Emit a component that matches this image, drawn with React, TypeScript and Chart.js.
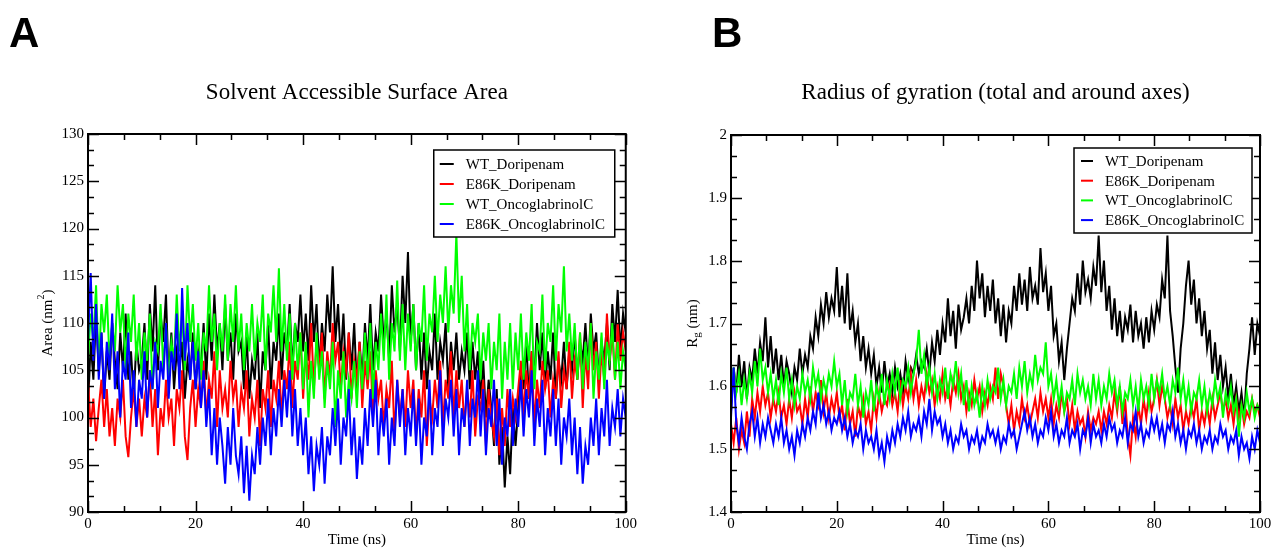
import React, { useEffect, useRef } from 'react';
import { Chart, registerables } from 'chart.js';

Chart.register(...registerables);

// ---------- data ----------
const TIME_STEP_NS = 0.5; // sampling interval of every series below (0 .. 100 ns)

const SERIES_LABELS = ['WT_Doripenam', 'E86K_Doripenam', 'WT_OncoglabrinolC', 'E86K_OncoglabrinolC'];
const SERIES_COLORS = ['#000000', '#ff0000', '#00ff00', '#0000ff'];

const X_TICK_STEP = 20;
const X_MIN = 0;
const X_MAX = 100;
const SASA_Y_MIN = 90;
const SASA_Y_MAX = 130;
const SASA_Y_STEP = 5;
const RG_Y_MIN = 1.4;
const RG_Y_MAX = 2;
const RG_Y_STEP = 0.1;

// Solvent Accessible Surface Area (nm^2)
const sasaWTDoripenam = [
  101, 108, 104, 111, 105, 109, 102, 107, 104, 110, 106, 103, 109, 105, 111, 104, 107, 102, 108, 105,
  106, 110, 104, 112, 107, 114, 105, 111, 108, 113, 104, 109, 103, 107, 105, 108, 102, 106, 104, 109,
  103, 107, 105, 110, 104, 111, 106, 113, 107, 110, 105, 112, 106, 109, 104, 111, 107, 108, 103, 109,
  102, 106, 104, 109, 101, 107, 105, 110, 103, 108, 106, 111, 104, 109, 107, 112, 105, 110, 108, 113,
  107, 111, 106, 114, 108, 112, 105, 110, 107, 113, 109, 116, 108, 112, 106, 111, 104, 109, 105, 110,
  103, 108, 104, 110, 106, 112, 105, 109, 107, 113, 108, 111, 106, 114, 109, 112, 107, 115, 110, 117.5,
  108, 112, 105, 110, 104, 109, 103, 107, 105, 111, 104, 108, 106, 110, 103, 108, 105, 109, 104, 107,
  105, 109, 103, 108, 104, 107, 102, 106, 100, 104, 101, 97, 103, 95, 99, 92.6, 98, 94, 101, 97,
  101, 105, 103, 108, 102, 107, 104, 110, 105, 109, 103, 107, 104, 109, 102, 106, 104, 108, 103, 107,
  105, 109, 104, 108, 106, 110, 105, 111, 107, 109, 104, 108, 106, 110, 105, 112, 108, 113.5, 107, 111,
  109,
];
const sasaE86KDoripenam = [
  104, 99, 102, 97.5, 101, 104, 99, 103, 98, 101, 97, 102, 100, 104, 98, 95.8, 100, 103, 99, 102,
  98, 102, 100, 105, 99, 103, 96, 101, 99, 104, 100, 102, 97, 103, 101, 105, 98, 95.5, 101, 104,
  99, 103, 101, 106, 100, 104, 102, 107, 99, 105, 101, 103, 100, 106, 102, 104, 99, 103, 101, 105,
  98, 102, 100, 104, 97, 103, 101, 105, 99, 104, 102, 106, 100, 105, 103, 108, 101, 106, 104, 109,
  102, 107, 104, 110, 103, 108, 105, 109, 102, 107, 104, 110, 106, 108, 103, 107, 105, 109, 102, 106,
  104, 108, 101, 106, 103, 107, 100, 105, 102, 104, 99, 103, 101, 106, 98, 104, 100, 103, 99, 105,
  101, 104, 98, 103, 100, 105, 97, 102, 100, 104, 101, 106, 99, 104, 102, 107, 100, 105, 101, 104,
  99, 103, 100, 105, 98, 102, 101, 104, 97, 103, 100, 98, 102, 96, 101, 97, 103, 99, 102, 100,
  103, 106, 100, 105, 102, 107, 99, 104, 101, 106, 103, 105, 100, 104, 102, 107, 101, 105, 103, 108,
  102, 106, 104, 109, 101, 107, 103, 110, 105, 108, 102, 107, 104, 111, 106, 109, 104, 110, 106, 109,
  107,
];
const sasaWTOncoglabrinolC = [
  106, 111, 108, 114, 105, 112, 109, 113, 106, 110, 107, 114, 109, 112, 105, 111, 108, 113, 106, 110,
  104, 109, 106, 111, 103, 108, 107, 112, 105, 110, 104, 108, 106, 113, 107, 111, 105, 114, 108, 112,
  106, 110, 104, 109, 107, 114, 108, 111, 105, 110, 107, 113, 106, 112, 108, 114, 107, 111, 105, 110,
  107, 112, 106, 110, 108, 113, 105, 111, 109, 114, 108, 115.8, 107, 112, 106, 111, 104, 110, 105, 109,
  103, 108, 100, 106, 102, 109, 104, 107, 101, 106, 103, 108, 99, 105, 102, 107, 100, 104, 102, 106,
  101, 107, 103, 109, 104, 110, 102, 108, 105, 111, 106, 113, 104, 110, 107, 114.5, 106, 112, 105, 111,
  107, 112, 105, 110, 108, 114, 106, 111, 109, 115, 108, 113, 110, 116, 109, 114, 111, 119.5, 110, 115,
  107, 112, 105, 110, 108, 111, 104, 109, 106, 110, 103, 108, 105, 111, 102, 108, 104, 110, 103, 109,
  105, 111, 104, 109, 106, 112, 103, 108, 107, 113, 105, 110, 108, 114, 106, 112, 109, 116, 107, 111,
  106, 110, 104, 109, 103, 108, 105, 110, 102, 107, 104, 109, 103, 108, 106, 110, 104, 108, 103, 107,
  105,
];
const sasaE86KOncoglabrinolC = [
  108, 115.3, 106, 112, 104, 109, 102, 108, 105, 111, 103, 107, 100, 106, 104, 109, 101, 105, 99, 104,
  102, 107, 100, 105, 103, 108, 101, 106, 104, 110, 102, 107, 105, 111, 103, 113.7, 106, 110, 104, 108,
  103, 107, 101, 105, 99, 103, 96, 101, 95, 100, 97, 93, 99, 95, 101, 96, 94, 98, 92, 97,
  91.2, 96, 94, 99, 95, 100, 97, 102, 96, 101, 98, 103, 99, 104, 100, 105, 98, 103, 97, 101,
  96, 100, 94, 98, 92.2, 97, 95, 99, 93, 98, 96, 101, 97, 102, 95, 100, 98, 103, 96, 100,
  93.5, 98, 95, 101, 97, 103, 99, 104, 96, 101, 98, 102, 95, 100, 97, 104, 99, 103, 96, 101,
  98, 103, 97, 102, 95, 100, 98, 104, 96, 101, 99, 105, 97, 102, 100, 104, 98, 103, 96, 101,
  99, 104, 97, 102, 100, 105, 98, 103, 96, 101, 99, 104, 97, 102, 95, 100, 98, 103, 97, 102,
  99, 104, 98, 103, 100, 105, 97, 102, 99, 104, 96, 101, 98, 103, 97, 102, 95, 100, 98, 102,
  96, 100, 94, 99, 93, 97, 95, 100, 97, 102, 96, 101, 98, 104, 97, 101, 99, 103, 98, 102,
  100,
];

// Radius of gyration (nm)
const rgWTDoripenam = [
  1.56, 1.63, 1.59, 1.65, 1.60, 1.64, 1.58, 1.63, 1.61, 1.66, 1.62, 1.67, 1.64, 1.71, 1.63, 1.68, 1.62, 1.66, 1.61, 1.65,
  1.60, 1.64, 1.62, 1.59, 1.63, 1.61, 1.66, 1.62, 1.65, 1.63, 1.68, 1.66, 1.71, 1.68, 1.73, 1.70, 1.75, 1.71, 1.74, 1.72,
  1.79, 1.71, 1.76, 1.70, 1.78, 1.69, 1.72, 1.67, 1.70, 1.64, 1.68, 1.63, 1.66, 1.62, 1.65, 1.60, 1.63, 1.59, 1.64, 1.60,
  1.62, 1.59, 1.63, 1.60, 1.62, 1.59, 1.64, 1.61, 1.63, 1.62, 1.65, 1.62, 1.64, 1.63, 1.66, 1.62, 1.67, 1.64, 1.69, 1.65,
  1.70, 1.67, 1.74, 1.68, 1.72, 1.66, 1.73, 1.69, 1.71, 1.74, 1.70, 1.76, 1.72, 1.80, 1.74, 1.78, 1.71, 1.76, 1.72, 1.77,
  1.70, 1.74, 1.68, 1.73, 1.67, 1.72, 1.70, 1.76, 1.72, 1.78, 1.73, 1.77, 1.72, 1.79, 1.74, 1.76, 1.73, 1.82, 1.75, 1.78,
  1.72, 1.76, 1.68, 1.70, 1.64, 1.67, 1.61, 1.66, 1.70, 1.74, 1.72, 1.78, 1.73, 1.80, 1.75, 1.77, 1.74, 1.79, 1.76, 1.84,
  1.75, 1.80, 1.72, 1.76, 1.69, 1.74, 1.68, 1.72, 1.67, 1.71, 1.69, 1.73, 1.67, 1.72, 1.68, 1.70, 1.66, 1.71, 1.67, 1.72,
  1.69, 1.73, 1.71, 1.77, 1.74, 1.84, 1.72, 1.68, 1.63, 1.59, 1.66, 1.70, 1.76, 1.80, 1.73, 1.77, 1.70, 1.74, 1.68, 1.72,
  1.66, 1.69, 1.62, 1.67, 1.61, 1.65, 1.60, 1.63, 1.58, 1.62, 1.57, 1.60, 1.56, 1.59, 1.55, 1.62, 1.66, 1.71, 1.65, 1.70,
  1.68,
];
const rgE86KDoripenam = [
  1.54, 1.51, 1.55, 1.50, 1.53, 1.51, 1.56, 1.52, 1.58, 1.55, 1.59, 1.56, 1.60, 1.57, 1.59, 1.55, 1.58, 1.56, 1.59, 1.55,
  1.57, 1.54, 1.58, 1.55, 1.59, 1.56, 1.57, 1.54, 1.58, 1.55, 1.60, 1.56, 1.59, 1.57, 1.61, 1.56, 1.59, 1.55, 1.58, 1.56,
  1.59, 1.55, 1.57, 1.53, 1.58, 1.54, 1.56, 1.52, 1.57, 1.55, 1.58, 1.54, 1.56, 1.53, 1.58, 1.55, 1.59, 1.56, 1.58, 1.57,
  1.60, 1.57, 1.59, 1.56, 1.61, 1.57, 1.60, 1.58, 1.62, 1.58, 1.61, 1.57, 1.60, 1.58, 1.62, 1.59, 1.61, 1.57, 1.60, 1.58,
  1.62, 1.58, 1.60, 1.57, 1.61, 1.59, 1.62, 1.58, 1.60, 1.56, 1.59, 1.57, 1.61, 1.58, 1.60, 1.56, 1.59, 1.57, 1.60, 1.58,
  1.63, 1.58, 1.62, 1.60, 1.57, 1.54, 1.57, 1.53, 1.56, 1.54, 1.58, 1.55, 1.57, 1.54, 1.56, 1.58, 1.55, 1.59, 1.56, 1.58,
  1.55, 1.58, 1.54, 1.57, 1.55, 1.59, 1.56, 1.58, 1.54, 1.57, 1.53, 1.56, 1.54, 1.55, 1.52, 1.56, 1.53, 1.55, 1.54, 1.56,
  1.53, 1.56, 1.54, 1.57, 1.55, 1.59, 1.56, 1.60, 1.54, 1.58, 1.52, 1.49, 1.55, 1.52, 1.57, 1.54, 1.58, 1.55, 1.59, 1.56,
  1.58, 1.61, 1.57, 1.60, 1.58, 1.55, 1.57, 1.54, 1.58, 1.55, 1.57, 1.53, 1.56, 1.54, 1.57, 1.55, 1.58, 1.53, 1.56, 1.54,
  1.57, 1.54, 1.58, 1.55, 1.57, 1.59, 1.56, 1.58, 1.55, 1.57, 1.54, 1.58, 1.55, 1.57, 1.54, 1.56, 1.55, 1.58, 1.56, 1.57,
  1.55,
];
const rgWTOncoglabrinolC = [
  1.58, 1.63, 1.59, 1.62, 1.57, 1.61, 1.58, 1.62, 1.59, 1.64, 1.60, 1.66, 1.61, 1.63, 1.59, 1.62, 1.58, 1.61, 1.57, 1.62,
  1.59, 1.63, 1.58, 1.61, 1.57, 1.60, 1.58, 1.62, 1.59, 1.61, 1.58, 1.63, 1.60, 1.62, 1.58, 1.61, 1.59, 1.62, 1.60, 1.64,
  1.60, 1.62, 1.57, 1.61, 1.56, 1.59, 1.58, 1.62, 1.57, 1.60, 1.55, 1.59, 1.57, 1.61, 1.56, 1.60, 1.58, 1.62, 1.57, 1.61,
  1.58, 1.62, 1.59, 1.63, 1.58, 1.61, 1.60, 1.63, 1.59, 1.62, 1.64, 1.69, 1.62, 1.65, 1.60, 1.63, 1.59, 1.62, 1.58, 1.61,
  1.59, 1.63, 1.58, 1.62, 1.60, 1.64, 1.59, 1.62, 1.57, 1.61, 1.56, 1.60, 1.57, 1.59, 1.55, 1.60, 1.57, 1.61, 1.58, 1.60,
  1.59, 1.63, 1.58, 1.61, 1.57, 1.60, 1.59, 1.62, 1.58, 1.63, 1.60, 1.64, 1.59, 1.62, 1.60, 1.65, 1.61, 1.63, 1.62, 1.67,
  1.60, 1.62, 1.58, 1.61, 1.57, 1.60, 1.56, 1.59, 1.58, 1.61, 1.57, 1.62, 1.59, 1.61, 1.58, 1.60, 1.57, 1.62, 1.58, 1.61,
  1.57, 1.60, 1.58, 1.62, 1.59, 1.61, 1.57, 1.60, 1.56, 1.59, 1.58, 1.61, 1.57, 1.60, 1.56, 1.61, 1.58, 1.60, 1.57, 1.62,
  1.58, 1.61, 1.59, 1.62, 1.58, 1.60, 1.57, 1.61, 1.59, 1.63, 1.58, 1.61, 1.57, 1.60, 1.56, 1.59, 1.58, 1.61, 1.57, 1.60,
  1.56, 1.59, 1.57, 1.61, 1.58, 1.60, 1.55, 1.59, 1.57, 1.60, 1.56, 1.58, 1.52, 1.57, 1.55, 1.59, 1.56, 1.58, 1.55, 1.57,
  1.56,
];
const rgE86KOncoglabrinolC = [
  1.55, 1.63, 1.54, 1.51, 1.55, 1.52, 1.50, 1.54, 1.56, 1.52, 1.55, 1.51, 1.54, 1.52, 1.55, 1.53, 1.51, 1.54, 1.52, 1.55,
  1.51, 1.53, 1.50, 1.52, 1.49, 1.53, 1.51, 1.54, 1.52, 1.55, 1.53, 1.56, 1.54, 1.59, 1.55, 1.57, 1.54, 1.56, 1.53, 1.55,
  1.54, 1.56, 1.53, 1.55, 1.52, 1.54, 1.51, 1.53, 1.52, 1.54, 1.50, 1.53, 1.51, 1.52, 1.50, 1.53, 1.49, 1.51, 1.48, 1.52,
  1.50, 1.53, 1.51, 1.54, 1.52, 1.55, 1.53, 1.56, 1.52, 1.54, 1.53, 1.55, 1.52, 1.56, 1.54, 1.58, 1.53, 1.56, 1.54, 1.55,
  1.52, 1.54, 1.51, 1.53, 1.50, 1.52, 1.51, 1.54, 1.52, 1.53, 1.50, 1.52, 1.51, 1.53, 1.50, 1.52, 1.51, 1.54, 1.52, 1.53,
  1.51, 1.53, 1.50, 1.52, 1.51, 1.54, 1.52, 1.53, 1.50, 1.52, 1.54, 1.56, 1.53, 1.55, 1.52, 1.54, 1.51, 1.53, 1.52, 1.55,
  1.53, 1.56, 1.52, 1.54, 1.51, 1.53, 1.52, 1.55, 1.51, 1.53, 1.52, 1.54, 1.50, 1.53, 1.52, 1.55, 1.51, 1.54, 1.52, 1.53,
  1.51, 1.54, 1.52, 1.55, 1.53, 1.54, 1.51, 1.53, 1.52, 1.55, 1.51, 1.54, 1.53, 1.56, 1.52, 1.54, 1.51, 1.53, 1.52, 1.55,
  1.53, 1.55, 1.52, 1.54, 1.51, 1.54, 1.53, 1.56, 1.52, 1.54, 1.51, 1.53, 1.50, 1.53, 1.52, 1.54, 1.51, 1.53, 1.50, 1.52,
  1.51, 1.53, 1.50, 1.52, 1.51, 1.54, 1.52, 1.53, 1.50, 1.52, 1.51, 1.53, 1.49, 1.52, 1.50, 1.51, 1.485, 1.52, 1.50, 1.53,
  1.51,
];

// ---------- styling ----------
const SERIF = '"Liberation Serif", "Times New Roman", Times, serif';
const SANS = '"Liberation Sans", Arial, Helvetica, sans-serif';
const CANVAS_H = 548;

const xmgracePlugin = {
  id: 'xmgrace',
  afterDatasetsDraw(chart: any, _args: any, opts: any) {
    const { ctx, chartArea } = chart;
    const { left, right, top, bottom } = chartArea;
    const xs = chart.scales.x;
    const ys = chart.scales.y;
    ctx.save();

    // tick marks (inward, all four sides)
    ctx.strokeStyle = '#000';
    ctx.lineWidth = 1.5;
    const drawTicks = (scale: any, horizontal: boolean) => {
      const vals: number[] = scale.ticks.map((t: any) => t.value);
      const step = vals[1] - vals[0];
      const minors: number[] = [];
      for (let i = 0; i < vals.length - 1; i++) {
        for (let k = 1; k <= 2; k++) minors.push(vals[i] + (step * k) / 3);
      }
      const one = (v: number, len: number) => {
        const p = Math.round(scale.getPixelForValue(v)) + 0.5;
        ctx.beginPath();
        if (horizontal) {
          ctx.moveTo(p, bottom);
          ctx.lineTo(p, bottom - len);
          ctx.moveTo(p, top);
          ctx.lineTo(p, top + len);
        } else {
          ctx.moveTo(left, p);
          ctx.lineTo(left + len, p);
          ctx.moveTo(right, p);
          ctx.lineTo(right - len, p);
        }
        ctx.stroke();
      };
      vals.forEach((v) => one(v, 11));
      minors.forEach((v) => one(v, 6));
    };
    drawTicks(xs, true);
    drawTicks(ys, false);

    // frame
    ctx.lineWidth = 2;
    ctx.strokeRect(left, top, right - left, bottom - top);

    // legend box
    const lg = opts.legend;
    const bx = right - lg.rightGap - lg.width;
    const by = top + lg.topGap;
    ctx.fillStyle = '#fff';
    ctx.fillRect(bx, by, lg.width, lg.height);
    ctx.lineWidth = 1.5;
    ctx.strokeStyle = '#000';
    ctx.strokeRect(bx, by, lg.width, lg.height);
    ctx.font = `15px ${SERIF}`;
    ctx.textBaseline = 'middle';
    ctx.textAlign = 'left';
    chart.data.datasets.forEach((ds: any, i: number) => {
      const ry = by + lg.firstRow + i * lg.rowGap;
      ctx.strokeStyle = ds.borderColor;
      ctx.lineWidth = 2;
      ctx.beginPath();
      ctx.moveTo(bx + lg.lineX0, ry);
      ctx.lineTo(bx + lg.lineX1, ry);
      ctx.stroke();
      ctx.fillStyle = '#000';
      ctx.fillText(ds.label, bx + lg.textX, ry + 1);
    });

    // chart title
    ctx.fillStyle = '#000';
    ctx.textAlign = 'center';
    ctx.textBaseline = 'middle';
    ctx.font = `23px ${SERIF}`;
    ctx.fillText(opts.title, (left + right) / 2, opts.titleY);

    // x-axis title
    ctx.font = `15px ${SERIF}`;
    ctx.fillText(opts.xTitle, (left + right) / 2, opts.xTitleY);

    // y-axis title (rotated, with super/subscript parts)
    ctx.save();
    ctx.translate(opts.yTitleX, (top + bottom) / 2);
    ctx.rotate(-Math.PI / 2);
    ctx.textAlign = 'left';
    ctx.textBaseline = 'middle';
    const parts: { t: string; size: number; dy: number }[] = opts.yTitleParts;
    let total = 0;
    parts.forEach((p) => {
      ctx.font = `${p.size}px ${SERIF}`;
      total += ctx.measureText(p.t).width;
    });
    let cx = -total / 2;
    parts.forEach((p) => {
      ctx.font = `${p.size}px ${SERIF}`;
      ctx.fillText(p.t, cx, p.dy);
      cx += ctx.measureText(p.t).width;
    });
    ctx.restore();

    // panel letter
    ctx.textAlign = 'left';
    ctx.textBaseline = 'alphabetic';
    ctx.font = `bold 42px ${SANS}`;
    ctx.fillText(opts.panel, opts.panelX, opts.panelY);

    ctx.restore();
  },
};

function makeDatasets(series: number[][]) {
  return series.map((values, i) => ({
    label: SERIES_LABELS[i],
    data: values.map((v, k) => ({ x: k * TIME_STEP_NS, y: v })),
    borderColor: SERIES_COLORS[i],
    backgroundColor: SERIES_COLORS[i],
    borderWidth: 2,
    pointRadius: 0,
    tension: 0,
    fill: false,
    order: 4 - i, // later series drawn on top, as in the original plot
  }));
}

const formatTick = (v: any) => String(Number(Number(v).toFixed(2)));

function makeConfig(p: {
  series: number[][];
  yMin: number;
  yMax: number;
  yStep: number;
  yAxisWidth: number;
  padTop: number;
  padRight: number;
  plugin: any;
}): any {
  return {
    type: 'line',
    data: { datasets: makeDatasets(p.series) },
    plugins: [xmgracePlugin],
    options: {
      animation: false,
      responsive: false,
      events: [],
      layout: { padding: { left: 0, top: p.padTop, right: p.padRight, bottom: 0 } },
      plugins: {
        legend: { display: false },
        title: { display: false },
        tooltip: { enabled: false },
        xmgrace: p.plugin,
      },
      scales: {
        x: {
          type: 'linear',
          min: X_MIN,
          max: X_MAX,
          grid: { display: false, drawTicks: false },
          border: { display: false },
          ticks: {
            stepSize: X_TICK_STEP,
            color: '#000',
            font: { family: SERIF, size: 15 },
            padding: 3,
            maxRotation: 0,
            autoSkip: false,
            callback: formatTick,
          },
          afterFit: (s: any) => {
            s.height = 36;
          },
        },
        y: {
          type: 'linear',
          min: p.yMin,
          max: p.yMax,
          grid: { display: false, drawTicks: false },
          border: { display: false },
          ticks: {
            stepSize: p.yStep,
            color: '#000',
            font: { family: SERIF, size: 15 },
            padding: 4,
            autoSkip: false,
            callback: formatTick,
          },
          afterFit: (s: any) => {
            s.width = p.yAxisWidth;
          },
        },
      },
    },
  };
}

function ChartCanvas({ config, left, width }: { config: () => any; left: number; width: number }) {
  const ref = useRef<HTMLCanvasElement>(null);
  useEffect(() => {
    const chart = new Chart(ref.current as HTMLCanvasElement, config());
    return () => chart.destroy();
  }, []);
  return (
    <canvas
      ref={ref}
      width={width}
      height={CANVAS_H}
      style={{ position: 'absolute', left, top: 0, width, height: CANVAS_H, display: 'block' }}
    />
  );
}

const sasaConfig = () =>
  makeConfig({
    series: [sasaWTDoripenam, sasaE86KDoripenam, sasaWTOncoglabrinolC, sasaE86KOncoglabrinolC],
    yMin: SASA_Y_MIN,
    yMax: SASA_Y_MAX,
    yStep: SASA_Y_STEP,
    yAxisWidth: 88,
    padTop: 134,
    padRight: 10,
    plugin: {
      title: 'Solvent Accessible Surface Area',
      titleY: 93,
      xTitle: 'Time (ns)',
      xTitleY: 540,
      yTitleX: 48,
      yTitleParts: [
        { t: 'Area (nm', size: 15, dy: 0 },
        { t: '2', size: 10, dy: -7 },
        { t: ')', size: 15, dy: 0 },
      ],
      panel: 'A',
      panelX: 9,
      panelY: 47,
      legend: { rightGap: 11, topGap: 16, width: 181, height: 87, firstRow: 14, rowGap: 20, lineX0: 6, lineX1: 20, textX: 32 },
    },
  });

const rgConfig = () =>
  makeConfig({
    series: [rgWTDoripenam, rgE86KDoripenam, rgWTOncoglabrinolC, rgE86KOncoglabrinolC],
    yMin: RG_Y_MIN,
    yMax: RG_Y_MAX,
    yStep: RG_Y_STEP,
    yAxisWidth: 91,
    padTop: 135,
    padRight: 16,
    plugin: {
      title: 'Radius of gyration (total and around axes)',
      titleY: 93,
      xTitle: 'Time (ns)',
      xTitleY: 540,
      yTitleX: 53,
      yTitleParts: [
        { t: 'R', size: 15, dy: 0 },
        { t: 'g', size: 11, dy: 4 },
        { t: ' (nm)', size: 15, dy: 0 },
      ],
      panel: 'B',
      panelX: 72,
      panelY: 47,
      legend: { rightGap: 8, topGap: 13, width: 178, height: 85, firstRow: 13, rowGap: 19.7, lineX0: 7, lineX1: 19, textX: 31 },
    },
  });

export default function App() {
  return (
    <div style={{ position: 'absolute', left: 0, top: 0, width: 1276, height: CANVAS_H, background: '#fff' }}>
      <ChartCanvas config={sasaConfig} left={0} width={640} />
      <ChartCanvas config={rgConfig} left={640} width={636} />
    </div>
  );
}
